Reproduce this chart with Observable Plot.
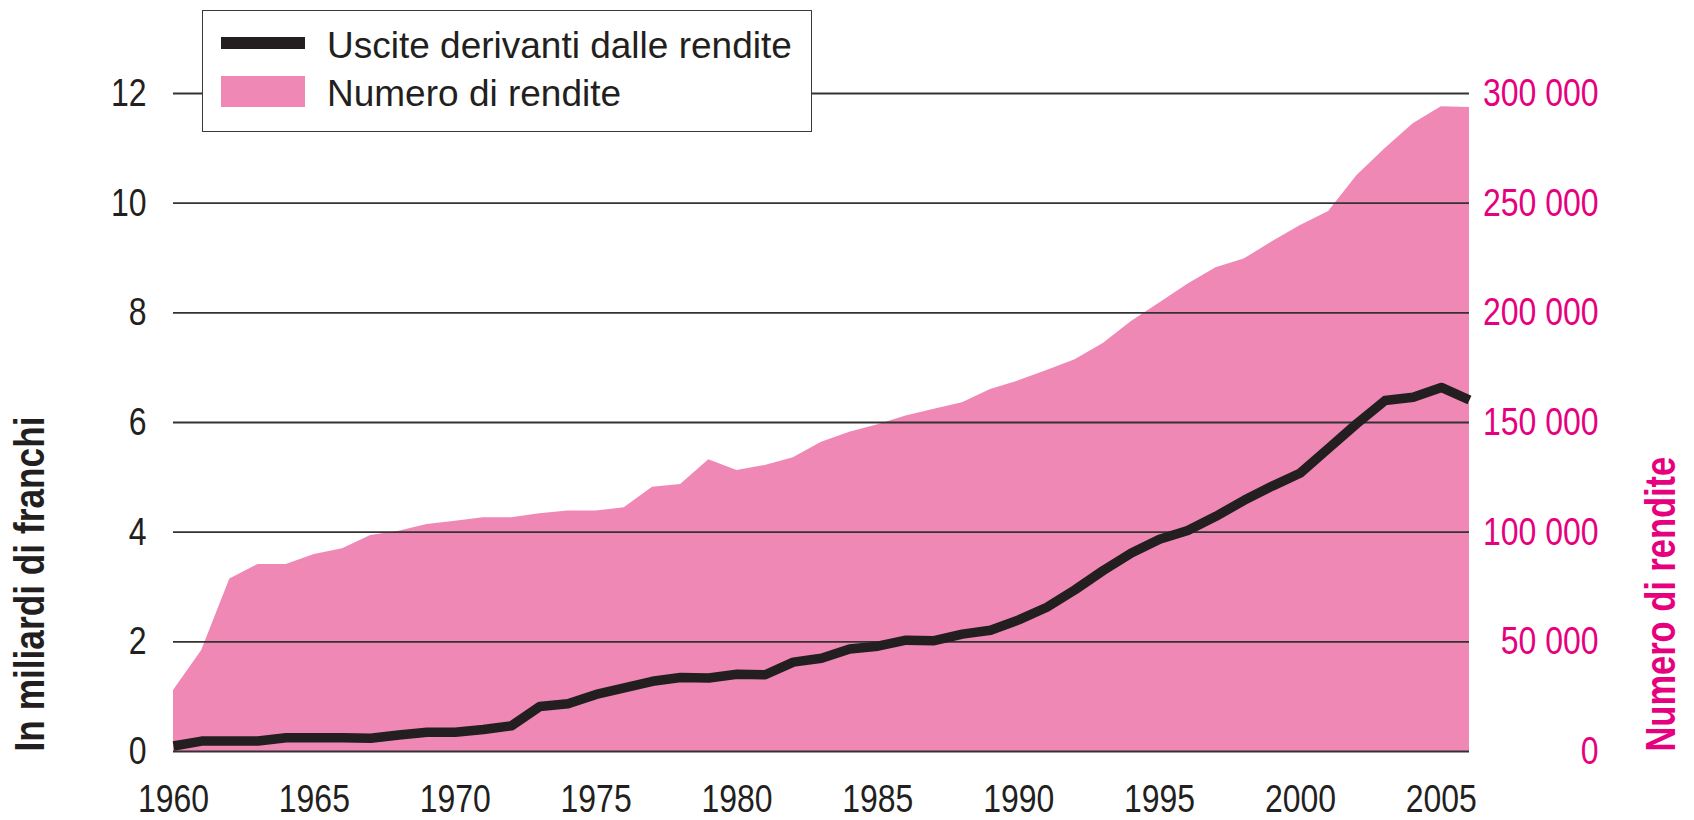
<!DOCTYPE html>
<html>
<head>
<meta charset="utf-8">
<script src="https://cdn.jsdelivr.net/npm/d3@7"></script>
<script src="https://cdn.jsdelivr.net/npm/@observablehq/plot@0.6"></script>
<style>
  html, body { margin: 0; padding: 0; background: #fff; }
  #wrap { position: relative; width: 1694px; height: 820px; font-family: "Liberation Sans", Arial, sans-serif; }
  #legend { position: absolute; left: 202px; top: 10px; width: 610px; height: 122px; box-sizing: border-box; border: 1.6px solid #3a3a3a; background: #fff; color: #231f20; }
  .sw { position: absolute; left: 18px; width: 84px; }
  .lt { position: absolute; left: 124px; font-size: 37px; line-height: 1; white-space: nowrap; }
</style>
</head>
<body>
<div id="wrap">
  <div id="chart"></div>
  <div id="legend"></div>
</div>
<script>
const years = [1960,1961,1962,1963,1964,1965,1966,1967,1968,1969,
               1970,1971,1972,1973,1974,1975,1976,1977,1978,1979,
               1980,1981,1982,1983,1984,1985,1986,1987,1988,1989,
               1990,1991,1992,1993,1994,1995,1996,1997,1998,1999,
               2000,2001,2002,2003,2004,2005,2006];
// Uscite derivanti dalle rendite (miliardi di franchi)
const expenditure = [0.10,0.19,0.19,0.19,0.25,0.25,0.25,0.24,0.30,0.35,
                     0.35,0.40,0.47,0.82,0.87,1.04,1.16,1.28,1.35,1.34,
                     1.41,1.40,1.63,1.70,1.87,1.92,2.03,2.02,2.14,2.21,
                     2.40,2.63,2.95,3.30,3.62,3.87,4.03,4.29,4.58,4.84,
                     5.08,5.53,5.98,6.40,6.46,6.64,6.41];
// Numero di rendite
const annuities = [27800,46000,78700,85300,85300,89800,92400,98500,100400,103500,
                   105000,106600,106600,108400,109600,109600,111100,120500,121700,133000,
                   128100,130400,133900,141000,145600,149000,153000,156000,159000,165000,
                   169000,173700,178600,186000,196000,204500,213000,220600,224500,232400,
                   239800,246200,262500,274800,286200,294000,293600];
const xTicks = [1960,1965,1970,1975,1980,1985,1990,1995,2000,2005];
const leftTicks = [0,2,4,6,8,10,12];
const rightTicks = [0,50000,100000,150000,200000,250000,300000];
const seriesNames = ["Uscite derivanti dalle rendite", "Numero di rendite"];
const leftTitle = "In miliardi di franchi";
const rightTitle = "Numero di rendite";

const ratio = rightTicks[rightTicks.length - 1] / leftTicks[leftTicks.length - 1];
const data = years.map((year, i) => ({year, expenditure: expenditure[i], annuities: annuities[i]}));
const fmt = v => d3.format(",")(v).replace(/,/g, " ");

const black = "#231f20";
const pink = "#f088b6";
const magenta = "#e6007e";
const font = '"Liberation Sans", Arial, sans-serif';

const chart = Plot.plot({
  width: 1694,
  height: 820,
  marginLeft: 173,
  marginRight: 225,
  marginTop: 93,
  marginBottom: 69,
  x: {domain: [1960, 2006]},
  y: {domain: [0, 12]},
  style: {fontFamily: font, fontSize: "39px", background: "white", color: black},
  marks: [
    Plot.areaY(data, {x: "year", y: d => d.annuities / ratio, fill: pink, curve: "linear"}),
    Plot.ruleY(leftTicks, {stroke: "#333", strokeWidth: 1.8}),
    Plot.lineY(data, {x: "year", y: "expenditure", stroke: black, strokeWidth: 9.5, strokeLinejoin: "round", strokeLinecap: "butt"}),
    Plot.axisX(xTicks, {tickSize: 0, tickPadding: 33, tickFormat: "d", fontSize: 39, fill: black, label: null}),
    Plot.axisY(leftTicks, {anchor: "left", tickSize: 0, tickPadding: 27, tickFormat: "d", fontSize: 39, fill: black, label: null}),
    Plot.axisY(rightTicks.map(v => v / ratio), {anchor: "right", tickSize: 0, tickPadding: 129, textAnchor: "end",
      tickFormat: d => fmt(Math.round(d * ratio)), fontSize: 39, fill: magenta, label: null}),
    Plot.text([leftTitle], {text: d => d, frameAnchor: "bottom-left", rotate: -90, textAnchor: "start",
      dx: -130, fontSize: 43, fontWeight: "bold", fill: black}),
    Plot.text([rightTitle], {text: d => d, frameAnchor: "bottom-right", rotate: -90, textAnchor: "start",
      dx: 205, fontSize: 42, fontWeight: "bold", fill: magenta})
  ]
});
document.getElementById("chart").appendChild(chart);

// condensed look: compress the chart's texts horizontally (Liberation Sans -> narrow proportions)
chart.querySelectorAll("text").forEach(t => {
  const len = t.getComputedTextLength();
  if (len > 0) {
    t.setAttribute("textLength", (len * 0.82).toFixed(1));
    t.setAttribute("lengthAdjust", "spacingAndGlyphs");
  }
});

const legend = document.getElementById("legend");
legend.innerHTML = `
  <div class="sw" style="top:26px;height:12px;background:${black}"></div>
  <div class="lt" style="top:16px">${seriesNames[0]}</div>
  <div class="sw" style="top:65px;height:31px;background:${pink}"></div>
  <div class="lt" style="top:64px">${seriesNames[1]}</div>
`;
</script>
</body>
</html>
